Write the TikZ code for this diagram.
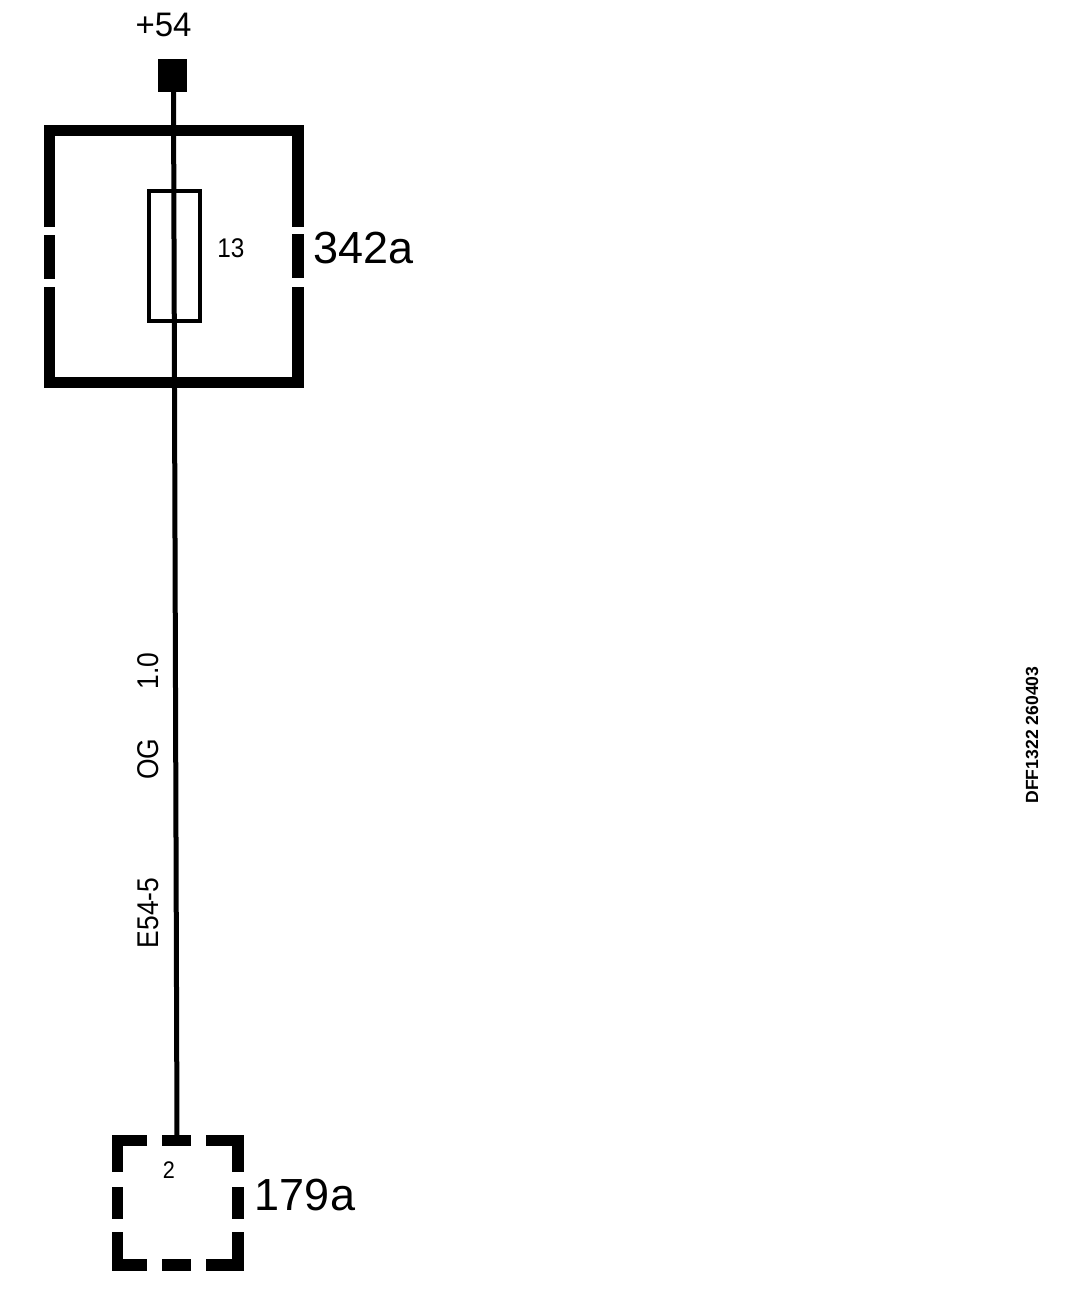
\documentclass[tikz,border=0pt]{standalone}
\usepackage{fontspec}
\setmainfont{Liberation Sans}
\newcommand{\fs}[1]{\fontsize{#1}{#1}\selectfont}
\tikzset{
  housing/.style={line width=11.5pt,line cap=butt,line join=miter},
  wire/.style={line width=5pt,line cap=butt},
  lab/.style={inner sep=0pt,outer sep=0pt,anchor=center,text=black},
}
\begin{document}
\begin{tikzpicture}[x=1pt,y=-1pt]
\useasboundingbox[fill=white] (0,0) rectangle (1072,1312);
% terminal and fuse
\node[fill=black,minimum width=29pt,minimum height=33pt,inner sep=0pt,outer sep=0pt] (term) at (172.5,75.5) {};
\node[draw=black,line width=4pt,minimum width=51pt,minimum height=130pt,inner sep=0pt,outer sep=0pt] (fuse) at (174.5,256) {};
% fuse holder 342a
\draw[housing] (49.5,227) -- (49.5,130.5) -- (298,130.5) -- (298,227);
\draw[housing] (49.5,235) -- (49.5,279);
\draw[housing] (298,234) -- (298,278);
\draw[housing] (49.5,287) -- (49.5,382.5) -- (298,382.5) -- (298,287);
% connector 179a
\draw[housing] (147,1140.5) -- (117.5,1140.5) -- (117.5,1172);
\draw[housing] (162,1140.5) -- (191,1140.5);
\draw[housing] (206,1140.5) -- (238,1140.5) -- (238,1172);
\draw[housing] (117.5,1187) -- (117.5,1219);
\draw[housing] (238,1187) -- (238,1219);
\draw[housing] (117.5,1232) -- (117.5,1265) -- (147,1265);
\draw[housing] (162,1265) -- (191,1265);
\draw[housing] (206,1265) -- (238,1265) -- (238,1232);
\coordinate (pin) at (177,1137);
% wire
\draw[wire] (173.5,90) -- (pin);
% labels
\node[lab,xscale=.97,draw=black,draw opacity=0] (l54) at (163.5,25) {\fs{34}+54};
\node[lab,xscale=.9] (l13) at (231,248) {\fs{27}13};
\node[lab] (l342) at (363.5,248) {\fs{45}342a};
\node[lab] (l179) at (305,1195) {\fs{45}179a};
\node[lab,xscale=.9] (l2) at (169,1170) {\fs{24}2};
\node[lab,rotate=90,xscale=.88] (l10) at (148,671) {\fs{30}1.0};
\node[lab,rotate=90,xscale=.88] (log) at (148,759) {\fs{30}OG};
\node[lab,rotate=90,xscale=.88] (le54) at (148,913) {\fs{30}E54-5};
\node[lab,rotate=90] (lcode) at (1032,735) {\fs{17.6}\bfseries DFF1322 260403};
\end{tikzpicture}
\end{document}
